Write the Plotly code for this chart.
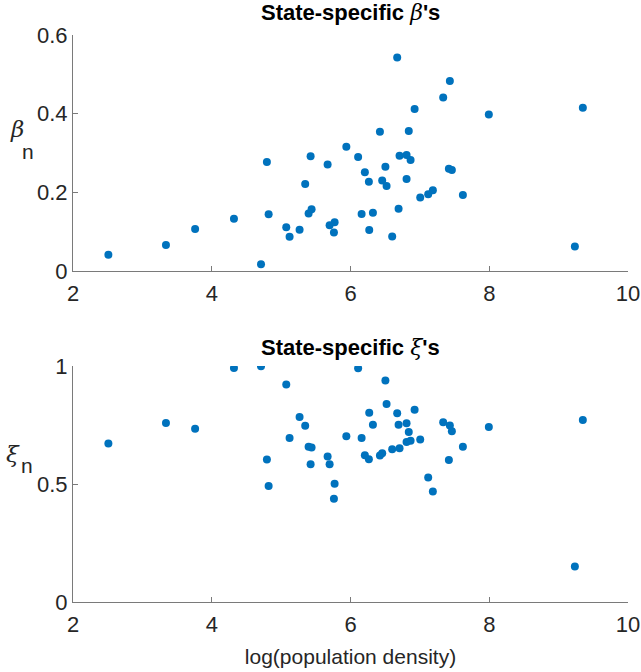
import plotly.graph_objects as go
from plotly.subplots import make_subplots

log_density = [2.51, 3.34, 3.76, 4.32, 4.71, 4.795, 4.82, 5.074, 5.122, 5.266,
               5.347, 5.396, 5.439, 5.425, 5.67, 5.699, 5.771, 5.761, 5.94, 6.11,
               6.673, 7.432, 7.336, 6.924, 7.994, 9.349, 6.424, 6.84, 6.707, 6.808,
               6.866, 6.503, 6.207, 6.265, 6.457, 6.52, 6.808, 7.418, 7.461, 7.187,
               7.12, 7.005, 7.62, 6.16, 6.323, 6.693, 6.27, 6.601, 9.234]
beta = [0.041, 0.066, 0.107, 0.133, 0.017, 0.277, 0.144, 0.111, 0.087, 0.105,
        0.221, 0.146, 0.157, 0.292, 0.271, 0.116, 0.124, 0.098, 0.316, 0.290,
        0.543, 0.483, 0.441, 0.412, 0.398, 0.415, 0.354, 0.356, 0.293, 0.295,
        0.282, 0.265, 0.251, 0.227, 0.230, 0.216, 0.234, 0.260, 0.257, 0.205,
        0.195, 0.187, 0.193, 0.145, 0.148, 0.158, 0.104, 0.088, 0.062]
xi = [0.672, 0.759, 0.734, 0.991, 0.999, 0.604, 0.492, 0.922, 0.695, 0.784,
      0.747, 0.658, 0.655, 0.584, 0.617, 0.584, 0.501, 0.437, 0.702, 0.990,
      0.800, 0.748, 0.762, 0.815, 0.742, 0.771, 0.621, 0.720, 0.651, 0.757,
      0.683, 0.939, 0.622, 0.605, 0.630, 0.839, 0.678, 0.602, 0.723, 0.468,
      0.528, 0.689, 0.658, 0.695, 0.751, 0.751, 0.802, 0.647, 0.150]

x_ticks = [2, 4, 6, 8, 10]
beta_ticks = [0, 0.2, 0.4, 0.6]
xi_ticks = [0, 0.5, 1]

W, H = 641, 672
ML, MR, MT, MB = 73, 13, 35, 70
pw = W - ML - MR
ph = H - MT - MB

def fy(py):
    return (H - MB - py) / ph

def fx(px):
    return (px - ML) / pw

fig = make_subplots(rows=2, cols=1)
mk = dict(color="#0072BD", size=8, line=dict(width=0))
fig.add_trace(go.Scatter(x=log_density, y=beta, mode="markers", marker=mk,
                         showlegend=False), row=1, col=1)
fig.add_trace(go.Scatter(x=log_density, y=xi, mode="markers", marker=mk,
                         showlegend=False), row=2, col=1)

font_main = "Liberation Sans, Arial, sans-serif"
txtcol = "#262626"
lncol = "#7a7a7a"
common_x = dict(range=[2, 10], tickvals=x_ticks, ticks="inside", ticklen=5,
                tickcolor=lncol, showline=True, linecolor=lncol, linewidth=1,
                showgrid=False, zeroline=False, domain=[0, 1],
                ticklabelstandoff=3, automargin=False,
                tickfont=dict(size=22, color=txtcol, family=font_main))
common_y = dict(ticks="inside", ticklen=5, tickcolor=lncol, showline=True,
                linecolor=lncol, linewidth=1, showgrid=False, zeroline=False,
                automargin=False,
                tickfont=dict(size=22, color=txtcol, family=font_main))

fig.update_layout(
    width=W, height=H, margin=dict(l=ML, r=MR, t=MT, b=MB, autoexpand=False),
    paper_bgcolor="white", plot_bgcolor="white",
    font=dict(family=font_main, color=txtcol),
    xaxis=dict(**common_x, anchor="y"),
    xaxis2=dict(**common_x, anchor="y2",
                title=dict(text="log(population density)",
                           font=dict(size=21, color=txtcol), standoff=12)),
    yaxis=dict(**common_y, range=[0, 0.6], tickvals=beta_ticks,
               domain=[fy(271), 1], anchor="x"),
    yaxis2=dict(**common_y, range=[0, 1], tickvals=xi_ticks,
                ticktext=["0", "0.5", "1"], domain=[0, fy(366)], anchor="x2"),
)

serif = "font-family:'DejaVu Serif','Liberation Serif',serif"
fig.add_annotation(text=f"<b>State-specific </b><span style=\"{serif}\"><i>β</i></span><b>'s</b>",
                   xref="paper", yref="paper", x=0.5, y=fy(13), xanchor="center",
                   yanchor="middle", showarrow=False,
                   font=dict(size=22, color="black", family=font_main))
fig.add_annotation(text=f"<b>State-specific </b><span style=\"{serif}\"><i>ξ</i></span><b>'s</b>",
                   xref="paper", yref="paper", x=0.5, y=fy(347), xanchor="center",
                   yanchor="middle", showarrow=False,
                   font=dict(size=22, color="black", family=font_main))

# y-axis labels: symbol with large subscript n, as two texts
for sym, sx, sy, nx, ny in [("β", 17, 129, 28, 151), ("ξ", 13, 454, 27, 465)]:
    fig.add_annotation(text=f"<span style=\"{serif}\"><i>{sym}</i></span>",
                       xref="paper", yref="paper", x=fx(sx), y=fy(sy),
                       xanchor="center", yanchor="middle", showarrow=False,
                       font=dict(size=23, color=txtcol, family=font_main))
    fig.add_annotation(text="n", xref="paper", yref="paper", x=fx(nx), y=fy(ny),
                       xanchor="center", yanchor="middle", showarrow=False,
                       font=dict(size=21, color=txtcol, family=font_main))

fig.write_html("out.html")
